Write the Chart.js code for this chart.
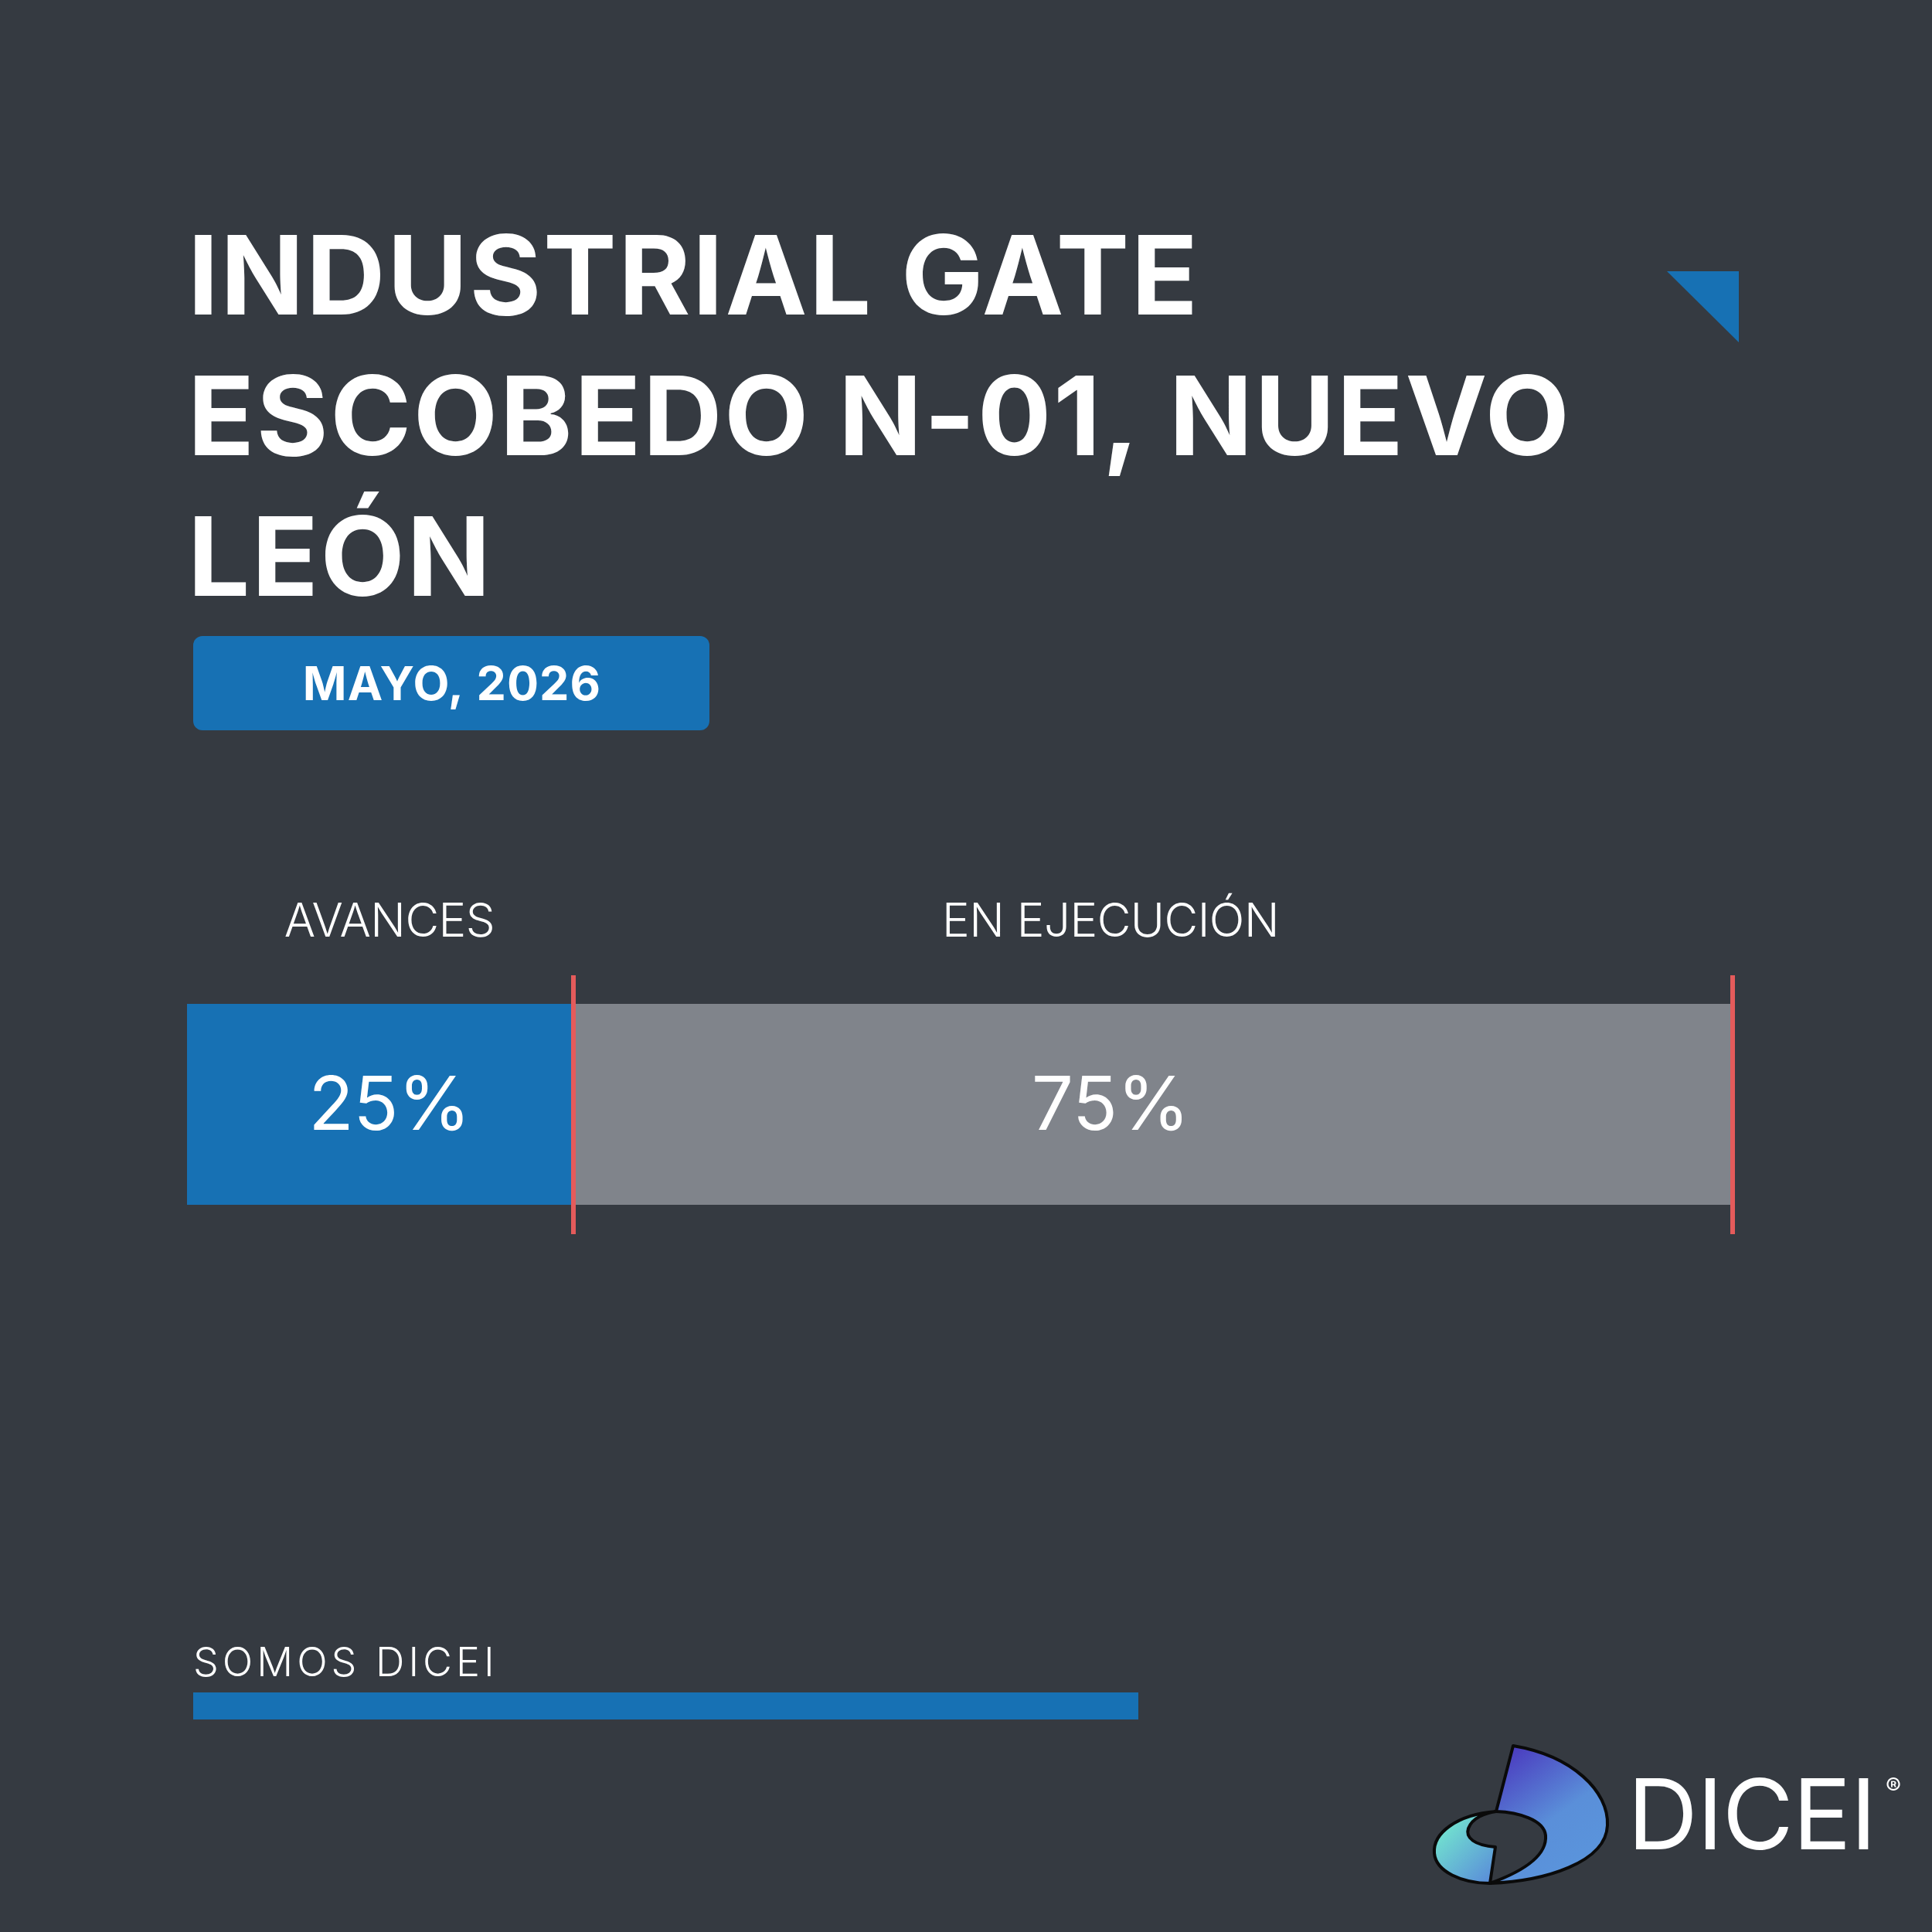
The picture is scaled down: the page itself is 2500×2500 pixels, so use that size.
<!DOCTYPE html>
<html>
<head>
<meta charset="utf-8">
<script src="https://cdn.jsdelivr.net/npm/chart.js@4"></script>
<style>
  html, body { margin: 0; padding: 0; background: #353a41; }
  canvas { display: block; }
</style>
</head>
<body>
<canvas id="avance" width="2500" height="2500"></canvas>
<script>
// datos
var titleLines = ['INDUSTRIAL GATE', 'ESCOBEDO N-01, NUEVO', 'LEÓN'];
var periodo = 'MAYO, 2026';
var categories = ['AVANCES', 'EN EJECUCIÓN'];
var values = [25, 75];
var barColors = ['#1771b4', '#80848b'];

var AZUL = '#1771b4';
var FONDO = '#353a41';
var ROJO = '#e45b5b';

function drawLogo(ctx) {
    ctx.save();
    ctx.lineWidth = 4;
    ctx.strokeStyle = '#0a0a0a';
    ctx.lineJoin = 'round';

    // vela grande
    var g1 = ctx.createLinearGradient(1950, 2270, 2060, 2420);
    g1.addColorStop(0, '#4b3ec0');
    g1.addColorStop(0.55, '#5a8fd9');
    g1.addColorStop(1, '#5a95dc');
    ctx.fillStyle = g1;
    ctx.beginPath();
    ctx.moveTo(1958, 2259);
    ctx.bezierCurveTo(2035, 2272, 2082, 2318, 2080, 2362);
    ctx.bezierCurveTo(2078, 2410, 2000, 2434, 1928, 2437);
    ctx.bezierCurveTo(1975, 2420, 2002, 2400, 2000, 2375);
    ctx.bezierCurveTo(1998, 2355, 1965, 2345, 1936, 2344);
    ctx.closePath();
    ctx.fill();
    ctx.stroke();

    // lobulo
    var g2 = ctx.createLinearGradient(1860, 2370, 1925, 2435);
    g2.addColorStop(0, '#72e3cf');
    g2.addColorStop(1, '#5a8fd9');
    ctx.fillStyle = g2;
    ctx.beginPath();
    ctx.moveTo(1936, 2344);
    ctx.bezierCurveTo(1885, 2348, 1854, 2372, 1856, 2398);
    ctx.bezierCurveTo(1858, 2422, 1892, 2437, 1928, 2437);
    ctx.lineTo(1935, 2390);
    ctx.bezierCurveTo(1908, 2388, 1896, 2378, 1900, 2366);
    ctx.bezierCurveTo(1905, 2352, 1922, 2346, 1936, 2344);
    ctx.closePath();
    ctx.fill();
    ctx.stroke();

    ctx.fillStyle = '#ffffff';
    ctx.textAlign = 'left';
    ctx.textBaseline = 'alphabetic';
    ctx.font = '400 126px Inter';
    ctx.letterSpacing = '-1px';
    ctx.fillText('DICEI', 2106, 2393);
    ctx.letterSpacing = '0px';
    ctx.font = '400 30px Inter';
    ctx.fillText('®', 2440, 2322);
    ctx.restore();
}

var lienzo = {
    id: 'lienzo',
    beforeDraw: function(chart) {
        var ctx = chart.ctx;
        ctx.save();
        ctx.fillStyle = FONDO;
        ctx.fillRect(0, 0, chart.width, chart.height);

        // titulo
        ctx.fillStyle = '#ffffff';
        ctx.textAlign = 'left';
        ctx.textBaseline = 'alphabetic';
        ctx.font = '700 142px Inter';
        ctx.letterSpacing = '2.5px';
        titleLines.forEach(function(t, i) {
            ctx.fillText(t, 243, 407 + i * 182);
        });

        // triangulo
        ctx.fillStyle = AZUL;
        ctx.beginPath();
        ctx.moveTo(2157, 351);
        ctx.lineTo(2250, 351);
        ctx.lineTo(2250, 443);
        ctx.closePath();
        ctx.fill();

        // fecha
        ctx.beginPath();
        ctx.roundRect(250, 823, 668, 122, 12);
        ctx.fill();
        ctx.fillStyle = '#ffffff';
        ctx.textAlign = 'center';
        ctx.font = '700 61px Inter';
        ctx.letterSpacing = '1px';
        ctx.fillText(periodo, 585, 906);

        // pie
        ctx.textAlign = 'left';
        ctx.font = '300 52px Inter';
        ctx.letterSpacing = '5px';
        ctx.fillText('SOMOS DICEI', 250, 2169);
        ctx.fillStyle = AZUL;
        ctx.fillRect(250, 2190, 1223, 35);
        ctx.restore();

        drawLogo(ctx);
    },
    afterDatasetsDraw: function(chart, args, opts) {
        var ctx = chart.ctx;
        ctx.save();
        ctx.textAlign = 'center';
        ctx.textBaseline = 'alphabetic';
        chart.data.datasets.forEach(function(ds, i) {
            var bar = chart.getDatasetMeta(i).data[0];
            var cx = (bar.base + bar.x) / 2 + (opts.nudge[i] || 0);
            ctx.fillStyle = '#ffffff';
            ctx.font = '300 60px Inter';
            ctx.letterSpacing = '-0.5px';
            ctx.fillText(ds.label, cx, 1212);
            ctx.font = '400 96px Inter';
            ctx.letterSpacing = '-0.5px';
            ctx.fillText(ds.data[0] + '%', cx, 1462);
            // marca roja al final del segmento
            ctx.fillStyle = ROJO;
            ctx.fillRect(Math.round(bar.x) - 3, 1262, 6, 335);
        });
        ctx.restore();
    }
};

new Chart(document.getElementById('avance'), {
    type: 'bar',
    data: {
        labels: ['Avance'],
        datasets: categories.map(function(c, i) {
            return {
                label: c,
                data: [values[i]],
                backgroundColor: barColors[i],
                borderWidth: 0,
                barPercentage: 1,
                categoryPercentage: 1
            };
        })
    },
    options: {
        indexAxis: 'y',
        responsive: false,
        animation: false,
        layout: { padding: { left: 242, right: 258, top: 1299, bottom: 941 } },
        scales: {
            x: { stacked: true, min: 0, max: 100, display: false },
            y: { stacked: true, display: false }
        },
        plugins: {
            legend: { display: false },
            tooltip: { enabled: false },
            lienzo: { nudge: [12, -55] }
        }
    },
    plugins: [lienzo]
});
</script>
</body>
</html>
